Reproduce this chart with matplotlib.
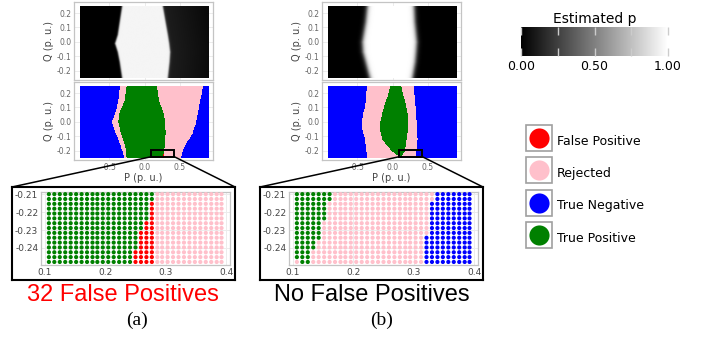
import numpy as np
import matplotlib.pyplot as plt
from matplotlib.colors import ListedColormap, Normalize
from matplotlib.cm import ScalarMappable
from matplotlib.lines import Line2D
from matplotlib.patches import Rectangle, ConnectionPatch
from matplotlib.ticker import FixedLocator, FormatStrFormatter

plt.rcParams['font.family'] = ['DejaVu Sans']
plt.rcParams['axes.unicode_minus'] = False

W, H = 706, 344

# ---- boundaries of the classification maps (Q from top to bottom) ----
a_q = [0.25, 0.15, 0.06, 0.0, -0.08, -0.17, -0.21, -0.25]
a_blue_l = [-0.348, -0.371, -0.414, -0.462, -0.405, -0.333, -0.31, -0.286]
a_green_l = [-0.252, -0.281, -0.357, -0.371, -0.333, -0.271, -0.26, -0.252]
a_green_r = [0.176, 0.205, 0.271, 0.295, 0.3, 0.285, 0.28, 0.245]
a_blue_r = [0.827, 0.79, 0.756, 0.73, 0.68, 0.567, 0.54, 0.52]
a_fp_r = 0.282

b_q = [0.25, 0.15, 0.06, 0.0, -0.05, -0.12, -0.2, -0.25]
b_blue_l = [-0.364, -0.378, -0.411, -0.435, -0.426, -0.392, -0.37, -0.364]
b_green_l = [-0.03, -0.09, -0.15, -0.17, -0.175, -0.15, -0.02, 0.11]
b_green_r = [0.125, 0.175, 0.213, 0.222, 0.222, 0.2, 0.175, 0.13]
b_blue_r = [0.307, 0.317, 0.331, 0.34, 0.345, 0.355, 0.34, 0.325]

# ---- white (p ~ 1) band of the estimated p maps ----
a_hm_q = [0.25, 0.05, -0.01, -0.07, -0.14, -0.25]
a_white_l = [-0.317, -0.378, -0.416, -0.378, -0.35, -0.317]
a_white_r = [0.26, 0.331, 0.35, 0.364, 0.355, 0.331]
b_hm_q = [0.25, 0.14, 0.0, -0.07, -0.14, -0.25]
b_white_l = [-0.355, -0.378, -0.425, -0.416, -0.378, -0.32]
b_white_r = [0.307, 0.317, 0.345, 0.335, 0.322, 0.284]

# ---- zoomed grid points ----
inset_p = [0.107, 0.116, 0.125, 0.134, 0.143, 0.152, 0.161, 0.170, 0.179, 0.187, 0.196,
           0.205, 0.214, 0.223, 0.232, 0.241, 0.250, 0.259, 0.268, 0.277, 0.286, 0.294,
           0.303, 0.312, 0.321, 0.330, 0.339, 0.348, 0.357, 0.366, 0.375, 0.384, 0.392]
inset_q = [-0.2100, -0.2127, -0.2154, -0.2181, -0.2208, -0.2235, -0.2262, -0.2289,
           -0.2316, -0.2343, -0.2370, -0.2397, -0.2424, -0.2451, -0.2478]
# (a): green up to a_n_green, then red (false positives) up to col 20, then pink
a_n_green = [20, 20, 19, 19, 19, 19, 18, 18, 17, 17, 17, 17, 16, 16, 16]
a_fp_end = 20
# (b): green from start to end, pink, blue from b_blue_start
b_green_start = [0, 0, 0, 0, 0, 0, 0, 0, 0, 0, 0, 0, 0, 0, 1]
b_green_end = [7, 7, 6, 6, 6, 6, 5, 5, 5, 5, 4, 4, 3, 3, 3]
b_blue_start = [26, 26, 25, 25, 25, 25, 25, 25, 25, 24, 24, 24, 24, 24, 24]

class_names = ['False Positive', 'Rejected', 'True Negative', 'True Positive']
class_colors = ['red', 'pink', 'blue', 'green']
captions = ['32 False Positives', 'No False Positives']
caption_colors = ['red', 'black']

ext = (-0.91, 0.91, -0.25, 0.25)
P_img = np.linspace(ext[0], ext[1], 364)
Q_img = np.linspace(ext[2], ext[3], 142)
PP, QQ = np.meshgrid(P_img, Q_img)


def edge(q_pts, vals):
    return np.interp(QQ, q_pts[::-1], vals[::-1])


def class_map(q_pts, bl, gl, gr, br):
    c = np.full(PP.shape, 2)
    c[(PP > edge(q_pts, bl)) & (PP < edge(q_pts, br))] = 1
    c[(PP > edge(q_pts, gl)) & (PP < edge(q_pts, gr))] = 3
    return c


def heat_map(q_pts, wl, wr, soft, white, dark_right):
    l = edge(q_pts, wl)
    r = edge(q_pts, wr)
    s_l = 1 / (1 + np.exp(-(PP - l) / soft))
    s_r = 1 / (1 + np.exp((PP - r) / soft))
    right = np.interp(PP - r, [0, 0.05, 0.6], dark_right)
    return s_l * s_r * white + (1 - s_r) * right


cls_a = class_map(a_q, a_blue_l, a_green_l, a_green_r, a_blue_r)
gr_a = edge(a_q, a_green_r)
cls_a[(QQ < -0.21) & (PP >= gr_a) & (PP < a_fp_r)] = 0
cls_b = class_map(b_q, b_blue_l, b_green_l, b_green_r, b_blue_r)
hm_a = heat_map(a_hm_q, a_white_l, a_white_r, 0.006, 0.96, [0.15, 0.11, 0.04])
hm_b = heat_map(b_hm_q, b_white_l, b_white_r, 0.018, 1.0, [0, 0, 0])


def inset_classes(panel):
    cols, rows, cc = [], [], []
    for i, q in enumerate(inset_q):
        for k, p in enumerate(inset_p):
            if panel == 0:
                c = 3 if k < a_n_green[i] else (0 if k < a_fp_end else 1)
            else:
                if b_green_start[i] <= k < b_green_end[i]:
                    c = 3
                elif k >= b_blue_start[i]:
                    c = 2
                else:
                    c = 1
            cols.append(p)
            rows.append(q)
            cc.append(class_colors[c])
    return cols, rows, cc


fig = plt.figure(figsize=(W / 100, H / 100), dpi=100)


def px_axes(x0, y0, x1, y1):
    return fig.add_axes([x0 / W, 1 - y1 / H, (x1 - x0) / W, (y1 - y0) / H])


def style(ax, size=5.5, color='#666666'):
    for sp in ax.spines.values():
        sp.set_color('#c4c4c4')
        sp.set_linewidth(0.9)
    ax.grid(True, color='#ececec', lw=0.7)
    ax.set_axisbelow(True)
    ax.tick_params(length=0, labelsize=size, labelcolor=color, pad=2)


cmap_cls = ListedColormap(class_colors)

for n, (dx, hm, cls) in enumerate([(0, hm_a, cls_a), (248, hm_b, cls_b)]):
    ax1 = px_axes(74 + dx, 2, 213 + dx, 80)
    ax1.imshow(hm, cmap='gray', vmin=0, vmax=1, extent=ext, origin='lower',
               aspect='auto', interpolation='bilinear', zorder=2)
    ax2 = px_axes(74 + dx, 82, 213 + dx, 160)
    ax2.imshow(cls, cmap=cmap_cls, vmin=-0.5, vmax=3.5, extent=ext, origin='lower',
               aspect='auto', interpolation='nearest', zorder=2)
    for ax in (ax1, ax2):
        ax.set_xlim(-1.0, 0.97)
        ax.set_ylim(-0.265, 0.277)
        ax.set_xticks([-0.5, 0.0, 0.5])
        ax.set_yticks([-0.2, -0.1, 0.0, 0.1, 0.2])
        style(ax)
        ax.set_ylabel('Q (p. u.)', fontsize=7, color='#444444', labelpad=2)
    ax1.set_xticklabels([])
    ax2.set_xlabel('P (p. u.)', fontsize=7, color='#444444', labelpad=1)

    rect = Rectangle((0.095, -0.242), 0.326, 0.047, fill=False, ec='black', lw=1.4, zorder=5)
    ax2.add_patch(rect)

    box = px_axes(12 + dx, 187, 235 + dx, 280)
    box.set_xticks([])
    box.set_yticks([])
    for sp in box.spines.values():
        sp.set_color('black')
        sp.set_linewidth(1.5)

    axi = px_axes(41 + dx, 192, 230 + dx, 265)
    px, qy, cc = inset_classes(n)
    axi.scatter(px, qy, c=cc, s=9, marker='o', linewidths=0, zorder=3)
    axi.set_xlim(0.094, 0.406)
    axi.set_ylim(-0.2495, -0.2088)
    axi.set_xticks([0.1, 0.2, 0.3, 0.4])
    axi.set_yticks([-0.21, -0.22, -0.23, -0.24])
    axi.xaxis.set_major_formatter(FormatStrFormatter('%.1f'))
    axi.yaxis.set_major_formatter(FormatStrFormatter('%.2f'))
    style(axi, size=6.5, color='#444444')

    for xa, xb in [(0.095, 0), (0.421, 1)]:
        con = ConnectionPatch(xyA=(xa, -0.242), coordsA=ax2.transData,
                              xyB=(xb, 1), coordsB=box.transAxes, color='black', lw=1.1)
        fig.add_artist(con)

    fig.text((123 + 249 * n) / W, 1 - 295 / H, captions[n], color=caption_colors[n],
             fontsize=17, family='Liberation Sans', ha='center', va='center')
    fig.text((137 + 245 * n) / W, 1 - 320 / H, '(%s)' % 'ab'[n],
             fontsize=14, family='Liberation Serif', ha='center', va='center')

# colorbar
cax = px_axes(521, 27, 668, 56)
cb = fig.colorbar(ScalarMappable(norm=Normalize(0, 1), cmap='gray'), cax=cax,
                  orientation='horizontal')
cb.set_ticks([0, 0.5, 1.0])
cb.set_ticklabels(['0.00', '0.50', '1.00'])
cax.xaxis.set_minor_locator(FixedLocator([0.25, 0.75]))
cax.tick_params(which='both', direction='in', length=6, width=1, color='#cccccc',
                top=True, bottom=True, labelsize=9, pad=3)
cb.outline.set_visible(False)
cax.set_title('Estimated p', fontsize=10, pad=3)

# legend
handles = []
for c in class_colors:
    sq = Line2D([], [], ls='none', marker='s', markersize=18.5, markerfacecolor='white',
                markeredgecolor='#a0a0a0', markeredgewidth=1.2)
    dot = Line2D([], [], ls='none', marker='o', markersize=14.5, color=c, markeredgewidth=0)
    handles.append((sq, dot))
fig.legend(handles, class_names, loc='upper left', bbox_to_anchor=(526 / W, 1 - 131 / H),
           frameon=False, fontsize=9, handlelength=2.1, handleheight=2.0,
           handletextpad=0.4, labelspacing=1.05, borderpad=0, borderaxespad=0)

fig.savefig('out.png', dpi=100)
